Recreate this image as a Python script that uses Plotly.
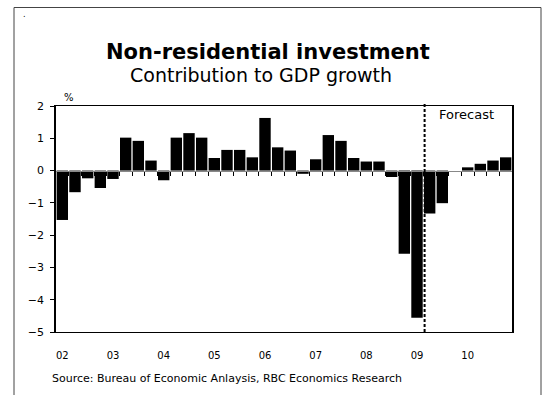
import plotly.graph_objects as go

# ---- data ----
years = ["02", "03", "04", "05", "06", "07", "08", "09", "10"]
quarters = [f"{y}Q{q}" for y in years for q in range(1, 5)]
values = [-1.53, -0.67, -0.24, -0.54,
          -0.26, 1.02, 0.92, 0.31,
          -0.30, 1.02, 1.16, 1.02,
          0.39, 0.64, 0.64, 0.41,
          1.63, 0.72, 0.62, -0.10,
          0.35, 1.10, 0.92, 0.39,
          0.28, 0.28, -0.20, -2.58,
          -4.56, -1.33, -1.01, 0.0,
          0.10, 0.21, 0.31, 0.41]
forecast_start = "09Q2"
y_ticks = [2, 1, 0, -1, -2, -3, -4, -5]

W, H = 546, 395
L, R, T, B = 56, 34, 106, 63
PW, PH = W - L - R, H - T - B


def px(x):
    return (x - L) / PW


def py(y):
    return (H - B - y) / PH


idx = list(range(len(quarters)))
year_idx = [quarters.index(y + "Q1") for y in years]
boundaries = [i + 0.5 for i in idx[:-1]]
fc_x = quarters.index(forecast_start) - 0.4
ymin, ymax = min(y_ticks), max(y_ticks)

FONT = "DejaVu Sans"

fig = go.Figure()
fig.add_trace(go.Bar(x=idx, y=values, marker=dict(color="#000000", line=dict(width=0)),
                     showlegend=False, hoverinfo="skip"))
# helper trace for the zero-line axis
fig.add_trace(go.Scatter(x=idx, y=values, xaxis="x2", yaxis="y", mode="markers",
                         marker=dict(opacity=0), showlegend=False, hoverinfo="skip"))

fig.update_layout(
    width=W, height=H,
    margin=dict(l=L, r=R, t=T, b=B),
    paper_bgcolor="white", plot_bgcolor="white",
    bargap=0.1,
    font=dict(family=FONT, color="#000000"),
    xaxis=dict(range=[-0.5, len(idx) - 0.5], tickmode="array", tickvals=year_idx,
               ticktext=years, ticks="", showgrid=False, zeroline=False,
               showline=True, linecolor="#000000", linewidth=1, mirror=True,
               tickfont=dict(size=10, family=FONT), ticklabelstandoff=14),
    xaxis2=dict(range=[-0.5, len(idx) - 0.5], overlaying="x", anchor="free",
                position=(0 - ymin) / (ymax - ymin), side="bottom",
                tickmode="array", tickvals=boundaries, ticks="outside", ticklen=4,
                tickcolor="#000000", tickwidth=1, showticklabels=False,
                showline=True, linecolor="#888888", linewidth=1,
                showgrid=False, zeroline=False),
    yaxis=dict(range=[ymin, ymax], tickmode="array", tickvals=y_ticks,
               ticks="outside", ticklen=4, tickcolor="#000000", tickwidth=1,
               showgrid=False, zeroline=False, showline=True, linecolor="#000000",
               linewidth=1.5, mirror=True, tickfont=dict(size=11, family=FONT),
               ticklabelstandoff=4),
)

# forecast divider
fig.add_shape(type="line", xref="x", yref="paper", x0=fc_x, x1=fc_x,
              y0=0, y1=py(102), line=dict(color="#000000", width=2, dash="3px,2px"))

# outer frame
fig.add_shape(type="rect", xref="paper", yref="paper", x0=px(14), x1=px(541),
              y0=py(420), y1=py(7.5), line=dict(color="#444444", width=1),
              fillcolor="rgba(0,0,0,0)", layer="above")

ann = [
    dict(text="<b>Non-residential investment</b>", x=px(268), y=py(52), size=21),
    dict(text="Contribution to GDP growth", x=px(261), y=py(75), size=19),
    dict(text="%", x=px(69), y=py(97), size=10),
    dict(text="Forecast", x=px(466), y=py(115), size=13),
    dict(text="Source: Bureau of Economic Anlaysis, RBC Economics Research",
         x=px(50), y=py(378), size=11, xanchor="left"),
    dict(text=".", x=px(24), y=py(14), size=8),
]
for a in ann:
    fig.add_annotation(text=a["text"], x=a["x"], y=a["y"], xref="paper", yref="paper",
                       xanchor=a.get("xanchor", "center"), yanchor="middle",
                       showarrow=False, font=dict(size=a["size"], family=FONT, color="#000000"))

fig.write_html("out.html")
